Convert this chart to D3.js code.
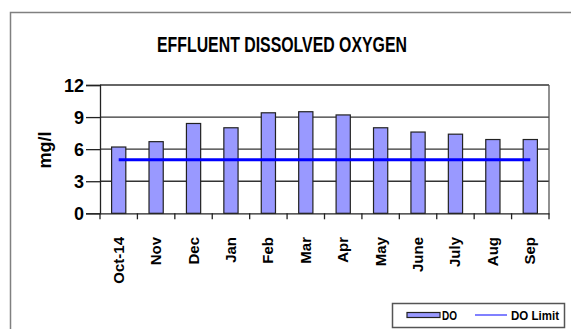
<!DOCTYPE html>
<html><head><meta charset="utf-8">
<script src="https://cdn.jsdelivr.net/npm/d3@7"></script>
<style>body{margin:0;background:#fff}svg{display:block}</style>
</head><body>
<svg id="c" width="571" height="329"></svg>
<script>
const categories = ["Oct-14","Nov","Dec","Jan","Feb","Mar","Apr","May","June","July","Aug","Sep"];
const doValues = [6.2, 6.7, 8.4, 8.0, 9.4, 9.5, 9.2, 8.0, 7.6, 7.4, 6.9, 6.9];
const doLimit = [5,5,5,5,5,5,5,5,5,5,5,5];
const yTicks = [0,3,6,9,12];
const title = "EFFLUENT DISSOLVED OXYGEN";
const yTitle = "mg/l";
const legendLabels = ["DO","DO Limit"];

const svg = d3.select("#c");
const font = "'Liberation Sans', Arial, sans-serif";

// outer chart border
svg.append("rect").attr("x",10.5).attr("y",12.5).attr("width",600).attr("height",400)
  .attr("fill","#fff").attr("stroke","#808080").attr("stroke-width",1.5);

const L=100, R=549, T=85, B=213.3;
const x = d3.scaleBand().domain(categories).range([L,R]).paddingInner(0.62).paddingOuter(0.31);
const xb = d3.scaleBand().domain(categories).range([L,R]);
const y = d3.scaleLinear().domain([0,12]).range([B,T]);

// title
svg.append("text").attr("x",282).attr("y",52).attr("text-anchor","middle")
  .attr("font-family",font).attr("font-weight","bold").attr("font-size",22)
  .attr("textLength",250).attr("lengthAdjust","spacingAndGlyphs").text(title);

// gridlines
svg.append("g").selectAll("line").data(yTicks.filter(d=>d>0)).join("line")
  .attr("x1",L).attr("x2",R).attr("y1",d=>y(d)).attr("y2",d=>y(d))
  .attr("stroke","#333").attr("stroke-width",1.3);
// plot border right
svg.append("line").attr("x1",R).attr("x2",R).attr("y1",T).attr("y2",B).attr("stroke","#555").attr("stroke-width",1.3);

// bars
svg.append("g").selectAll("rect").data(doValues).join("rect")
  .attr("x",(d,i)=>x(categories[i])).attr("width",x.bandwidth())
  .attr("y",d=>y(d)).attr("height",d=>B-y(d))
  .attr("fill","#9999FF").attr("stroke","#222").attr("stroke-width",1.2);

// limit line
const line = d3.line().x((d,i)=>xb(categories[i])+xb.bandwidth()/2).y(d=>y(d));
svg.append("path").datum(doLimit).attr("d",line).attr("fill","none")
  .attr("stroke","#0000FF").attr("stroke-width",3);

// y axis
const ya = svg.append("g").attr("transform",`translate(${L},0)`)
  .call(d3.axisLeft(y).tickValues(yTicks).tickSize(14).tickPadding(2).tickFormat(d3.format("d")));
ya.select(".domain").attr("stroke","#222").attr("stroke-width",1.3);
ya.selectAll(".tick line").attr("stroke","#222").attr("stroke-width",1.3);
ya.selectAll("text").attr("font-family",font).attr("font-weight","bold").attr("font-size",18)
  .attr("fill","#000").attr("dy","0.36em");

// x axis
const xa = svg.append("g").attr("transform",`translate(0,${B})`)
  .call(d3.axisBottom(xb).tickSize(0).tickFormat(""));
xa.select(".domain").attr("stroke","#222").attr("stroke-width",1.3);
svg.append("g").selectAll("line").data(d3.range(categories.length+1)).join("line")
  .attr("x1",i=>L+i*xb.step()).attr("x2",i=>L+i*xb.step())
  .attr("y1",B).attr("y2",B+6).attr("stroke","#222").attr("stroke-width",1.3);
svg.append("g").selectAll("text").data(categories).join("text")
  .attr("transform",d=>`translate(${xb(d)+xb.bandwidth()/2+5},237) rotate(-90)`)
  .attr("text-anchor","end").attr("font-family",font).attr("font-weight","bold")
  .attr("font-size",15).attr("fill","#000").text(d=>d);

// y title
svg.append("text").attr("transform","translate(51,150) rotate(-90)").attr("text-anchor","middle")
  .attr("font-family",font).attr("font-weight","bold").attr("font-size",18).text(yTitle);

// legend
const lg = svg.append("g");
lg.append("rect").attr("x",392.5).attr("y",303.5).attr("width",172).attr("height",24)
  .attr("fill","#fff").attr("stroke","#555").attr("stroke-width",1.5);
lg.append("rect").attr("x",407).attr("y",312.5).attr("width",33).attr("height",5)
  .attr("fill","#9999FF").attr("stroke","#222").attr("stroke-width",1.2);
lg.append("text").attr("x",442).attr("y",320).attr("font-family",font).attr("font-weight","bold")
  .attr("font-size",12).attr("textLength",15).attr("lengthAdjust","spacingAndGlyphs").text(legendLabels[0]);
lg.append("line").attr("x1",475).attr("x2",507).attr("y1",315).attr("y2",315)
  .attr("stroke","#8080FF").attr("stroke-width",2);
lg.append("text").attr("x",511).attr("y",320).attr("font-family",font).attr("font-weight","bold")
  .attr("font-size",12).attr("textLength",48).attr("lengthAdjust","spacingAndGlyphs").text(legendLabels[1]);
</script>
</body></html>
